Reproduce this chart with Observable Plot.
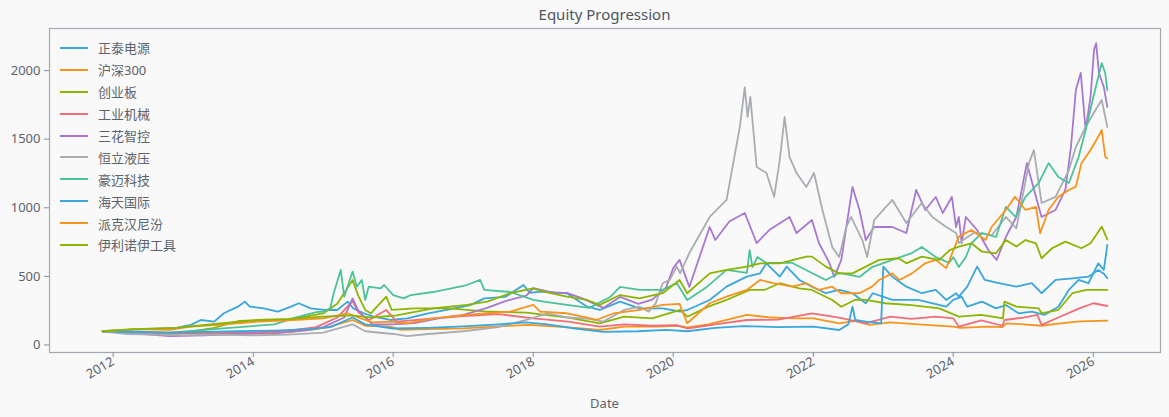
<!DOCTYPE html>
<html>
<head>
<meta charset="utf-8">
<script src="https://cdn.jsdelivr.net/npm/d3@7"></script>
<script src="https://cdn.jsdelivr.net/npm/@observablehq/plot@0.6"></script>
<style>
  html, body { margin: 0; padding: 0; background: #f9f9fa; }
  #wrap { position: relative; width: 1169px; height: 417px; background: #f9f9fa;
          font-family: "Noto Sans", "Noto Sans CJK SC", sans-serif; color: #5c636b; }
  #title { position: absolute; left: 0; top: 4px; width: 1209px; text-align: center;
           font-size: 15px; color: #4e565f; }
  #chart { position: absolute; left: 0; top: 26px; }
  #xlabel { position: absolute; top: 394px; left: 0; width: 1209px; text-align: center; font-size: 13px; color: #5c636b; }
  #legend { position: absolute; left: 60px; top: 37px; font-size: 13px; color: #5c636b; }
  #legend .row { height: 21.9px; display: flex; align-items: center; }
  #legend svg { margin-right: 10px; }
</style>
</head>
<body>
<div id="wrap">
  <div id="title">Equity Progression</div>
  <div id="chart"></div>
  <div id="xlabel">Date</div>
  <div id="legend"></div>
</div>
<script>
// ---- data (decimal year, equity value) ----
const names = ["正泰电源", "沪深300", "创业板", "工业机械", "三花智控", "恒立液压", "豪迈科技", "海天国际", "派克汉尼汾", "伊利诺伊工具"];
const colors = ["#39a6dc", "#f7941d", "#8cb400", "#f06e78", "#a877d0", "#a9adb2", "#4cc297", "#39a6dc", "#f7941d", "#8cb400"];
const yTicks = [0, 500, 1000, 1500, 2000];
const xTickYears = [2012, 2014, 2016, 2018, 2020, 2022, 2024, 2026];

const zhengtai = [[2011.85,100],[2012.2,110],[2012.6,118],[2012.9,125],[2013.11,146],[2013.25,182],[2013.44,170],[2013.58,231],[2013.78,279],[2013.88,316],[2013.95,279],[2014.15,267],[2014.35,243],[2014.54,279],[2014.65,304],[2014.82,267],[2015.01,255],[2015.2,255],[2015.35,316],[2015.43,267],[2015.58,231],[2015.72,206],[2015.96,182],[2016.2,194],[2016.5,230],[2016.8,260],[2017.1,290],[2017.3,340],[2017.6,350],[2017.86,437],[2017.95,380],[2018.1,389],[2018.48,377],[2018.77,279],[2018.95,255],[2019.24,316],[2019.52,267],[2019.85,267],[2020.1,243],[2020.2,255],[2020.52,328],[2020.76,425],[2021.05,498],[2021.24,522],[2021.33,595],[2021.52,498],[2021.62,571],[2021.8,474],[2021.98,425],[2022.18,377],[2022.37,401],[2022.56,377],[2022.75,304],[2022.85,377],[2023.13,328],[2023.5,328],[2023.9,279],[2024.0,328],[2024.12,352],[2024.2,279],[2024.41,316],[2024.61,267],[2024.75,291],[2024.93,231],[2025.12,243],[2025.3,219],[2025.5,279],[2025.65,401],[2025.79,474],[2025.93,450],[2026.07,595],[2026.15,547],[2026.2,729]];
const hs300 = [[2011.85,100],[2012.3,95],[2012.9,88],[2013.2,100],[2013.5,88],[2014.0,90],[2014.5,92],[2014.9,115],[2015.1,134],[2015.42,182],[2015.6,140],[2015.96,134],[2016.1,110],[2016.5,115],[2017.0,121],[2017.5,135],[2017.95,146],[2018.5,128],[2018.95,109],[2019.3,134],[2019.8,134],[2020.05,140],[2020.2,128],[2020.5,150],[2020.76,182],[2021.05,219],[2021.4,200],[2021.7,194],[2022.0,194],[2022.37,158],[2022.6,175],[2022.8,146],[2023.1,165],[2023.5,150],[2024.0,134],[2024.1,125],[2024.5,134],[2024.7,130],[2024.76,158],[2025.0,150],[2025.26,140],[2025.5,155],[2025.8,172],[2026.2,177]];
const chinext = [[2011.85,100],[2012.3,95],[2012.9,80],[2013.4,120],[2013.8,175],[2014.1,180],[2014.5,185],[2015.0,230],[2015.2,300],[2015.42,474],[2015.5,360],[2015.6,255],[2015.68,231],[2015.9,352],[2015.98,255],[2016.3,267],[2016.8,267],[2017.3,245],[2017.9,235],[2018.5,200],[2018.95,158],[2019.3,206],[2019.7,194],[2020.1,255],[2020.2,206],[2020.5,279],[2020.76,328],[2021.09,401],[2021.3,401],[2021.52,450],[2021.8,413],[2021.98,401],[2022.27,328],[2022.4,279],[2022.6,330],[2022.75,328],[2023.03,304],[2023.4,290],[2023.8,267],[2024.08,206],[2024.4,219],[2024.71,194],[2024.73,316],[2024.9,279],[2025.22,267],[2025.26,231],[2025.5,255],[2025.7,377],[2025.9,401],[2026.2,401]];
const machinery = [[2011.85,100],[2012.3,90],[2012.9,82],[2013.5,85],[2014.0,92],[2014.5,105],[2014.9,130],[2015.2,200],[2015.42,320],[2015.5,240],[2015.65,180],[2015.9,255],[2016.05,170],[2016.5,190],[2017.0,210],[2017.5,225],[2018.0,194],[2018.5,170],[2018.95,134],[2019.3,150],[2019.7,140],[2020.05,145],[2020.2,120],[2020.6,150],[2021.05,182],[2021.5,185],[2021.98,231],[2022.37,200],[2022.75,158],[2023.1,206],[2023.4,190],[2023.75,206],[2024.0,194],[2024.08,134],[2024.4,180],[2024.7,140],[2024.73,182],[2025.0,200],[2025.2,219],[2025.26,146],[2025.5,200],[2025.8,267],[2026.0,304],[2026.2,284]];
const sanhua = [[2011.85,100],[2012.3,85],[2012.8,65],[2013.3,70],[2013.8,80],[2014.3,85],[2014.8,110],[2015.0,130],[2015.3,200],[2015.42,340],[2015.5,250],[2015.7,150],[2016.0,150],[2016.3,160],[2016.7,200],[2017.0,220],[2017.34,270],[2017.6,320],[2017.9,360],[2018.0,415],[2018.3,380],[2018.48,379],[2018.7,340],[2019.0,270],[2019.24,350],[2019.5,300],[2019.7,330],[2019.9,420],[2020.0,560],[2020.09,620],[2020.23,423],[2020.52,860],[2020.6,765],[2020.8,900],[2021.02,962],[2021.19,743],[2021.37,838],[2021.66,933],[2021.76,816],[2021.98,911],[2022.08,743],[2022.23,598],[2022.3,496],[2022.4,620],[2022.56,1152],[2022.66,984],[2022.75,765],[2022.87,860],[2023.13,860],[2023.33,816],[2023.47,1130],[2023.6,984],[2023.75,1079],[2023.85,962],[2023.98,1079],[2024.04,860],[2024.08,933],[2024.12,743],[2024.18,933],[2024.34,838],[2024.5,692],[2024.62,620],[2024.75,787],[2024.9,933],[2025.05,1326],[2025.18,1079],[2025.26,933],[2025.46,984],[2025.6,1130],[2025.68,1443],[2025.75,1858],[2025.82,1983],[2025.89,1567],[2025.96,1808],[2026.01,2150],[2026.04,2200],[2026.08,1983],[2026.15,1880],[2026.2,1735]];
const hengli = [[2011.85,100],[2012.2,80],[2012.6,75],[2013.0,70],[2013.5,75],[2014.0,70],[2014.5,75],[2015.0,90],[2015.42,150],[2015.6,100],[2016.0,80],[2016.2,65],[2016.5,80],[2017.0,100],[2017.5,130],[2017.9,182],[2018.2,231],[2018.5,200],[2018.8,190],[2019.0,170],[2019.3,255],[2019.52,279],[2019.65,243],[2019.75,304],[2019.85,450],[2019.95,474],[2020.05,571],[2020.1,523],[2020.23,670],[2020.52,933],[2020.76,1057],[2020.95,1590],[2021.02,1880],[2021.06,1662],[2021.1,1808],[2021.19,1297],[2021.33,1254],[2021.44,1079],[2021.52,1348],[2021.59,1662],[2021.66,1370],[2021.76,1254],[2021.9,1152],[2022.01,1254],[2022.13,984],[2022.27,714],[2022.37,641],[2022.47,860],[2022.54,933],[2022.7,765],[2022.77,641],[2022.87,911],[2023.13,1057],[2023.33,889],[2023.55,1035],[2023.7,933],[2023.9,860],[2024.04,816],[2024.08,743],[2024.3,820],[2024.55,800],[2024.75,933],[2024.9,850],[2025.08,1326],[2025.15,1421],[2025.26,1035],[2025.46,1079],[2025.65,1275],[2025.75,1443],[2025.89,1589],[2026.03,1713],[2026.12,1786],[2026.2,1589]];
const haomai = [[2011.85,100],[2012.3,95],[2012.8,90],[2013.3,110],[2013.8,130],[2014.3,150],[2014.6,200],[2014.9,240],[2015.0,243],[2015.1,267],[2015.15,377],[2015.25,547],[2015.3,352],[2015.42,535],[2015.48,425],[2015.55,474],[2015.6,328],[2015.65,425],[2015.82,413],[2015.87,437],[2016.0,364],[2016.15,340],[2016.25,364],[2016.57,386],[2017.05,437],[2017.24,474],[2017.3,401],[2017.67,386],[2018.0,328],[2018.2,313],[2018.48,292],[2018.8,270],[2019.1,350],[2019.24,423],[2019.52,401],[2019.85,401],[2020.05,452],[2020.2,328],[2020.48,423],[2020.76,547],[2021.05,525],[2021.09,692],[2021.13,568],[2021.2,641],[2021.33,598],[2021.7,598],[2021.98,525],[2022.18,474],[2022.37,525],[2022.66,496],[2022.84,568],[2023.13,620],[2023.41,670],[2023.55,714],[2023.75,641],[2023.94,598],[2024.0,640],[2024.08,568],[2024.18,641],[2024.26,743],[2024.41,816],[2024.61,787],[2024.75,1006],[2024.89,933],[2025.03,1079],[2025.22,1181],[2025.36,1326],[2025.5,1225],[2025.65,1181],[2025.79,1370],[2025.89,1567],[2025.98,1764],[2026.07,1953],[2026.12,2055],[2026.17,1983],[2026.2,1858]];
const haitian = [[2011.85,100],[2012.3,95],[2012.8,90],[2013.3,95],[2013.8,100],[2014.3,105],[2014.8,115],[2015.1,130],[2015.42,200],[2015.6,150],[2016.0,120],[2016.5,125],[2017.0,135],[2017.5,150],[2017.9,165],[2018.2,150],[2018.6,120],[2019.0,95],[2019.5,100],[2019.9,110],[2020.2,100],[2020.6,125],[2021.0,138],[2021.5,130],[2022.0,134],[2022.37,109],[2022.5,150],[2022.56,279],[2022.6,182],[2022.75,170],[2022.97,158],[2023.0,571],[2023.13,498],[2023.33,425],[2023.55,377],[2023.75,401],[2023.9,328],[2024.04,377],[2024.08,352],[2024.2,425],[2024.34,571],[2024.45,474],[2024.65,450],[2024.9,425],[2025.12,450],[2025.26,377],[2025.46,474],[2025.7,486],[2025.93,498],[2026.07,547],[2026.15,520],[2026.2,486]];
const parker = [[2011.85,100],[2012.3,115],[2012.8,110],[2013.11,134],[2013.6,150],[2014.06,170],[2014.5,180],[2015.0,194],[2015.35,231],[2015.5,200],[2015.7,165],[2015.96,170],[2016.2,158],[2016.57,194],[2017.05,219],[2017.34,231],[2017.67,243],[2018.0,292],[2018.1,243],[2018.48,231],[2018.77,200],[2018.9,182],[2019.15,231],[2019.52,255],[2019.85,292],[2020.09,300],[2020.2,158],[2020.52,304],[2020.76,352],[2021.05,401],[2021.24,474],[2021.42,450],[2021.7,425],[2021.9,450],[2022.08,401],[2022.27,425],[2022.4,377],[2022.66,377],[2022.84,425],[2022.94,474],[2023.13,522],[2023.23,474],[2023.41,522],[2023.6,595],[2023.75,620],[2023.9,560],[2024.08,790],[2024.26,838],[2024.46,765],[2024.55,862],[2024.75,984],[2024.88,1081],[2025.03,984],[2025.18,1006],[2025.24,814],[2025.36,984],[2025.5,1081],[2025.65,1130],[2025.75,1154],[2025.83,1324],[2025.96,1421],[2026.07,1518],[2026.12,1567],[2026.17,1372],[2026.2,1360]];
const itw = [[2011.85,100],[2012.3,115],[2012.9,125],[2013.2,140],[2013.6,160],[2014.06,182],[2014.5,190],[2015.0,206],[2015.4,215],[2015.7,200],[2016.05,215],[2016.57,267],[2017.05,292],[2017.34,316],[2017.67,377],[2018.0,413],[2018.15,389],[2018.48,352],[2018.77,328],[2018.95,292],[2019.24,364],[2019.52,340],[2019.85,377],[2020.09,474],[2020.2,377],[2020.52,522],[2020.76,547],[2021.05,571],[2021.24,595],[2021.52,595],[2021.9,644],[2021.98,644],[2022.18,571],[2022.37,522],[2022.56,522],[2022.75,571],[2022.94,620],[2023.22,632],[2023.33,595],[2023.55,644],[2023.8,620],[2023.95,692],[2024.08,717],[2024.26,741],[2024.41,680],[2024.61,668],[2024.75,765],[2024.9,717],[2025.03,765],[2025.18,741],[2025.26,632],[2025.41,705],[2025.6,753],[2025.83,705],[2025.96,741],[2026.12,862],[2026.2,770]];

const seriesData = [zhengtai, hs300, chinext, machinery, sanhua, hengli, haomai, haitian, parker, itw];

// decimal year -> Date
function toDate(y) {
  const yr = Math.floor(y);
  const start = Date.UTC(yr, 0, 1), end = Date.UTC(yr + 1, 0, 1);
  return new Date(start + (y - yr) * (end - start));
}

const rows = seriesData.flatMap((arr, i) => arr.map(([t, v]) => ({name: names[i], date: toDate(t), value: v})));

const chart = Plot.plot({
  width: 1169,
  height: 391,
  marginTop: 2,
  marginLeft: 49,
  marginRight: 9,
  marginBottom: 65,
  style: {background: "transparent", fontFamily: "'Noto Sans', 'Noto Sans CJK SC', sans-serif", fontSize: "13px", color: "#5c636b"},
  x: {type: "utc", domain: [toDate(2011.09), toDate(2026.96)]},
  y: {domain: [-55, 2307]},
  color: {domain: names, range: colors},
  marks: [
    Plot.lineY(rows, {x: "date", y: "value", z: "name", stroke: "name", strokeWidth: 1.8, curve: "linear"}),
    Plot.frame({stroke: "#a3a9b0", strokeWidth: 1.2}),
    Plot.axisY({ticks: yTicks, tickFormat: d3.format("d"), tickSize: 5, tickPadding: 4, label: null, stroke: "#8a9099"}),
    Plot.axisX({ticks: xTickYears.map(y => new Date(Date.UTC(y, 0, 1))), tickFormat: d3.utcFormat("%Y"), tickRotate: -30, tickSize: 5, tickPadding: 3, label: null, stroke: "#8a9099"})
  ]
});
document.getElementById("chart").appendChild(chart);

// legend
const legend = document.getElementById("legend");
names.forEach((n, i) => {
  const row = document.createElement("div");
  row.className = "row";
  row.innerHTML = `<svg width="28" height="4"><line x1="0" x2="28" y1="2" y2="2" stroke="${colors[i]}" stroke-width="2"/></svg><span>${n}</span>`;
  legend.appendChild(row);
});
</script>
</body>
</html>
